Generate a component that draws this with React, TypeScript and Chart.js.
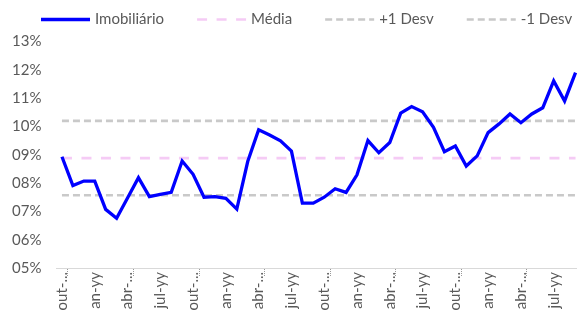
import React, { useEffect, useRef } from 'react';
import { Chart, registerables } from 'chart.js';

Chart.register(...registerables);

// ---- Data ----
const categories = [
  'out', 'nov', 'dez', 'jan', 'fev', 'mar', 'abr', 'mai', 'jun', 'jul', 'ago', 'set',
  'out', 'nov', 'dez', 'jan', 'fev', 'mar', 'abr', 'mai', 'jun', 'jul', 'ago', 'set',
  'out', 'nov', 'dez', 'jan', 'fev', 'mar', 'abr', 'mai', 'jun', 'jul', 'ago', 'set',
  'out', 'nov', 'dez', 'jan', 'fev', 'mar', 'abr', 'mai', 'jun', 'jul', 'ago', 'set',
];

const tickLabels = [
  'out-...', 'an-yy', 'abr-...', 'jul-yy',
  'out-...', 'an-yy', 'abr-...', 'jul-yy',
  'out-...', 'an-yy', 'abr-...', 'jul-yy',
  'out-...', 'an-yy', 'abr-...', 'jul-yy',
];

const imobiliario = [
  8.93, 7.91, 8.07, 8.07, 7.07, 6.76, 7.47, 8.19, 7.52, 7.6,
  7.67, 8.78, 8.31, 7.5, 7.52, 7.46, 7.08, 8.76, 9.88, 9.7,
  9.49, 9.13, 7.29, 7.29, 7.5, 7.8, 7.67, 8.29, 9.5, 9.07,
  9.43, 10.47, 10.7, 10.52, 9.97, 9.11, 9.31, 8.6, 8.96, 9.78,
  10.09, 10.44, 10.13, 10.44, 10.66, 11.61, 10.9, 11.9,
];

const mediaLevel = 8.88;
const plusDesvLevel = 10.2;
const minusDesvLevel = 7.57;

const yMin = 5;
const yMax = 13;

const seriesNames = ['Imobiliário', 'Média', '+1 Desv', '-1 Desv'];

// ---- Styles ----
const FONT = 'Lato';
const TEXT = '#595959';
const BLUE = '#0000FF';
const PINK = '#F5CBF5';
const GRAY = '#C9C9C9';

const legendPlugin = {
  id: 'customLegend',
  afterDraw(chart: any) {
    const ctx = chart.ctx;
    const datasets = chart.data.datasets;
    ctx.save();
    ctx.font = `15px ${FONT}`;
    ctx.textBaseline = 'middle';
    let x = 41;
    const y = 19.5;
    const sample = 49;
    datasets.forEach((ds: any) => {
      ctx.save();
      ctx.strokeStyle = ds.borderColor;
      ctx.lineWidth = ds.borderWidth;
      ctx.setLineDash(ds.borderDash || []);
      ctx.lineCap = 'butt';
      ctx.beginPath();
      ctx.moveTo(x, y);
      ctx.lineTo(x + sample, y);
      ctx.stroke();
      ctx.restore();
      const tx = x + sample + 5;
      ctx.fillStyle = TEXT;
      ctx.fillText(ds.label, tx, y);
      x = tx + ctx.measureText(ds.label).width + 33;
    });
    ctx.restore();
  },
};

const tickMarkPlugin = {
  id: 'dottedTicks',
  afterDraw(chart: any) {
    const xs = chart.scales.x;
    const ctx = chart.ctx;
    const bottom = chart.chartArea.bottom;
    ctx.save();
    ctx.strokeStyle = '#9A9A9A';
    ctx.lineWidth = 1;
    ctx.setLineDash([1, 1]);
    for (let i = 1; i < categories.length; i += 6) {
      const px = Math.round((xs.getPixelForValue(i - 1) + xs.getPixelForValue(i)) / 2) + 0.5;
      ctx.beginPath();
      ctx.moveTo(px, bottom + 1);
      ctx.lineTo(px, bottom + 8);
      ctx.stroke();
    }
    ctx.restore();
  },
};

export default function App() {
  const ref = useRef<HTMLCanvasElement | null>(null);

  useEffect(() => {
    if (!ref.current) return;
    document.body.style.overflow = 'hidden';
    const chart = new Chart(ref.current, {
      type: 'line',
      data: {
        labels: categories,
        datasets: [
          {
            label: seriesNames[0],
            data: imobiliario,
            borderColor: BLUE,
            backgroundColor: BLUE,
            borderWidth: 3.3,
            pointRadius: 0,
            tension: 0,
            borderJoinStyle: 'miter',
          },
          {
            label: seriesNames[1],
            data: categories.map(() => mediaLevel),
            borderColor: PINK,
            backgroundColor: PINK,
            borderWidth: 2.7,
            borderDash: [10, 9.5],
            pointRadius: 0,
          },
          {
            label: seriesNames[2],
            data: categories.map(() => plusDesvLevel),
            borderColor: GRAY,
            backgroundColor: GRAY,
            borderWidth: 2.7,
            borderDash: [7, 4],
            pointRadius: 0,
          },
          {
            label: seriesNames[3],
            data: categories.map(() => minusDesvLevel),
            borderColor: GRAY,
            backgroundColor: GRAY,
            borderWidth: 2.7,
            borderDash: [7, 4],
            pointRadius: 0,
          },
        ],
      },
      options: {
        responsive: false,
        animation: false,
        layout: { padding: { top: 41.5, left: 0, right: 0, bottom: 0 } },
        plugins: {
          legend: { display: false },
          tooltip: { enabled: false },
        },
        scales: {
          x: {
            type: 'category',
            offset: true,
            grid: { display: false, drawTicks: false },
            border: { display: true, color: '#D9D9D9', width: 1 },
            ticks: {
              autoSkip: false,
              minRotation: 90,
              maxRotation: 90,
              padding: 4,
              color: TEXT,
              font: { family: FONT, size: 15 },
              callback: (_v: any, i: number) => (i % 3 === 0 ? tickLabels[i / 3] : ''),
            },
            afterFit: (s: any) => {
              s.height = 50;
              s.paddingLeft = 0;
              s.paddingRight = 0;
            },
          },
          y: {
            min: yMin,
            max: yMax,
            grid: { display: false, drawTicks: false },
            border: { display: false },
            ticks: {
              stepSize: 1,
              padding: 15,
              color: TEXT,
              font: { family: FONT, size: 15 },
              callback: (v: any) => String(v).padStart(2, '0') + '%',
            },
            afterFit: (s: any) => {
              s.width = 56.5;
            },
          },
        },
      },
      plugins: [legendPlugin, tickMarkPlugin],
    });
    return () => chart.destroy();
  }, []);

  return (
    <div style={{ position: 'fixed', left: 0, top: 0, width: 581, height: 318, background: '#fff' }}>
      <canvas ref={ref} width={581} height={318} style={{ width: 581, height: 318 }} />
    </div>
  );
}
